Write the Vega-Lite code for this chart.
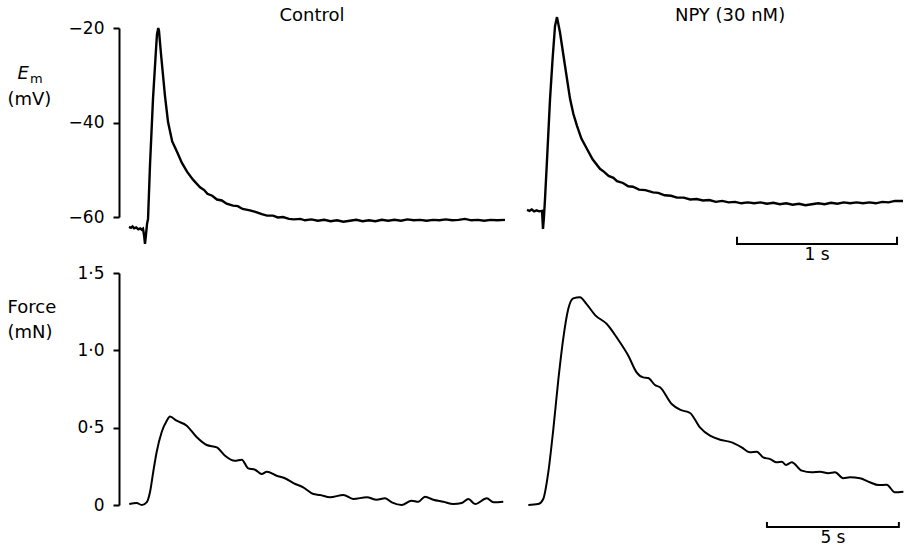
{
 "$schema": "https://vega.github.io/schema/vega-lite/v6.json",
 "background": "white",
 "padding": {"left": 7, "top": 7, "right": 0, "bottom": 0},
 "columns": 2,
 "align": "each",
 "bounds": "flush",
 "spacing": {"row": 56, "column": 12},
 "config": {
  "view": {"stroke": null},
  "font": "DejaVu Sans",
  "axis": {"domainColor": "black", "domainWidth": 2, "tickColor": "black", "tickWidth": 2, "tickSize": 6, "labelColor": "black", "labelFontSize": 17, "labelFont": "DejaVu Sans", "labelPadding": 9, "grid": false, "titleFont": "DejaVu Sans", "titleFontWeight": "normal", "titleFontSize": 18, "titleColor": "black", "titleLineHeight": 25, "labelOverlap": false},
  "text": {"color": "black", "font": "DejaVu Sans"}
 },
 "datasets": {
  "em": [
   {"condition":"Control","t":0,"mV":-62.1},{"condition":"Control","t":0.012,"mV":-62.3},{"condition":"Control","t":0.022,"mV":-62.0},{"condition":"Control","t":0.032,"mV":-62.4},{"condition":"Control","t":0.045,"mV":-62.2},{"condition":"Control","t":0.058,"mV":-62.6},{"condition":"Control","t":0.07,"mV":-62.4},{"condition":"Control","t":0.08,"mV":-62.7},{"condition":"Control","t":0.0875,"mV":-62.5},{"condition":"Control","t":0.094,"mV":-63.8},{"condition":"Control","t":0.1,"mV":-65.7},{"condition":"Control","t":0.106,"mV":-63.8},{"condition":"Control","t":0.1125,"mV":-61.5},{"condition":"Control","t":0.119,"mV":-60.4},{"condition":"Control","t":0.131,"mV":-49.2},{"condition":"Control","t":0.15,"mV":-35.0},{"condition":"Control","t":0.169,"mV":-24.4},{"condition":"Control","t":0.175,"mV":-21.3},{"condition":"Control","t":0.183,"mV":-20.0},{"condition":"Control","t":0.1875,"mV":-20.6},{"condition":"Control","t":0.2,"mV":-25.5},{"condition":"Control","t":0.225,"mV":-34.4},{"condition":"Control","t":0.244,"mV":-39.9},{"condition":"Control","t":0.27,"mV":-44.0},{"condition":"Control","t":0.3,"mV":-46.2},{"condition":"Control","t":0.33,"mV":-48.5},{"condition":"Control","t":0.3625,"mV":-50.4},{"condition":"Control","t":0.4,"mV":-52.1},{"condition":"Control","t":0.444,"mV":-53.7},{"condition":"Control","t":0.47,"mV":-54.3},{"condition":"Control","t":0.49,"mV":-55.1},{"condition":"Control","t":0.52,"mV":-55.5},{"condition":"Control","t":0.55,"mV":-56.3},{"condition":"Control","t":0.58,"mV":-56.5},{"condition":"Control","t":0.61,"mV":-57.2},{"condition":"Control","t":0.65,"mV":-57.6},{"condition":"Control","t":0.68,"mV":-57.7},{"condition":"Control","t":0.71,"mV":-58.3},{"condition":"Control","t":0.756,"mV":-58.6},{"condition":"Control","t":0.79,"mV":-58.9},{"condition":"Control","t":0.83,"mV":-59.4},{"condition":"Control","t":0.8625,"mV":-59.7},{"condition":"Control","t":0.9,"mV":-59.7},{"condition":"Control","t":0.93,"mV":-60.1},{"condition":"Control","t":0.9625,"mV":-60.0},{"condition":"Control","t":1.0,"mV":-60.4},{"condition":"Control","t":1.03,"mV":-60.5},{"condition":"Control","t":1.07,"mV":-60.4},{"condition":"Control","t":1.1,"mV":-60.7},{"condition":"Control","t":1.14,"mV":-60.5},{"condition":"Control","t":1.18,"mV":-60.8},{"condition":"Control","t":1.22,"mV":-60.6},{"condition":"Control","t":1.26,"mV":-60.9},{"condition":"Control","t":1.3,"mV":-60.7},{"condition":"Control","t":1.34,"mV":-61.0},{"condition":"Control","t":1.38,"mV":-60.8},{"condition":"Control","t":1.42,"mV":-60.6},{"condition":"Control","t":1.46,"mV":-60.9},{"condition":"Control","t":1.5,"mV":-60.7},{"condition":"Control","t":1.54,"mV":-60.9},{"condition":"Control","t":1.58,"mV":-60.6},{"condition":"Control","t":1.62,"mV":-60.8},{"condition":"Control","t":1.66,"mV":-60.6},{"condition":"Control","t":1.7,"mV":-60.8},{"condition":"Control","t":1.74,"mV":-60.5},{"condition":"Control","t":1.78,"mV":-60.7},{"condition":"Control","t":1.82,"mV":-60.6},{"condition":"Control","t":1.86,"mV":-60.8},{"condition":"Control","t":1.9,"mV":-60.6},{"condition":"Control","t":1.94,"mV":-60.7},{"condition":"Control","t":1.98,"mV":-60.5},{"condition":"Control","t":2.02,"mV":-60.7},{"condition":"Control","t":2.06,"mV":-60.6},{"condition":"Control","t":2.1,"mV":-60.4},{"condition":"Control","t":2.14,"mV":-60.7},{"condition":"Control","t":2.18,"mV":-60.6},{"condition":"Control","t":2.22,"mV":-60.8},{"condition":"Control","t":2.26,"mV":-60.6},{"condition":"Control","t":2.3,"mV":-60.7},{"condition":"Control","t":2.35,"mV":-60.6},
   {"condition":"NPY","t":0,"mV":-58.5},{"condition":"NPY","t":0.015,"mV":-58.7},{"condition":"NPY","t":0.03,"mV":-58.4},{"condition":"NPY","t":0.045,"mV":-58.8},{"condition":"NPY","t":0.06,"mV":-58.6},{"condition":"NPY","t":0.075,"mV":-58.8},{"condition":"NPY","t":0.094,"mV":-58.7},{"condition":"NPY","t":0.1,"mV":-62.5},{"condition":"NPY","t":0.106,"mV":-60.0},{"condition":"NPY","t":0.1125,"mV":-56.2},{"condition":"NPY","t":0.125,"mV":-48.0},{"condition":"NPY","t":0.144,"mV":-35.0},{"condition":"NPY","t":0.16,"mV":-26.5},{"condition":"NPY","t":0.175,"mV":-19.6},{"condition":"NPY","t":0.1875,"mV":-17.7},{"condition":"NPY","t":0.206,"mV":-20.9},{"condition":"NPY","t":0.2375,"mV":-28.0},{"condition":"NPY","t":0.269,"mV":-35.0},{"condition":"NPY","t":0.29,"mV":-38.2},{"condition":"NPY","t":0.3125,"mV":-40.7},{"condition":"NPY","t":0.34,"mV":-43.4},{"condition":"NPY","t":0.375,"mV":-45.6},{"condition":"NPY","t":0.41,"mV":-47.8},{"condition":"NPY","t":0.456,"mV":-49.8},{"condition":"NPY","t":0.48,"mV":-50.4},{"condition":"NPY","t":0.51,"mV":-51.3},{"condition":"NPY","t":0.54,"mV":-51.7},{"condition":"NPY","t":0.5625,"mV":-52.4},{"condition":"NPY","t":0.6,"mV":-52.8},{"condition":"NPY","t":0.6325,"mV":-53.5},{"condition":"NPY","t":0.6625,"mV":-53.6},{"condition":"NPY","t":0.7,"mV":-54.2},{"condition":"NPY","t":0.74,"mV":-54.3},{"condition":"NPY","t":0.7875,"mV":-54.8},{"condition":"NPY","t":0.82,"mV":-54.9},{"condition":"NPY","t":0.86,"mV":-55.4},{"condition":"NPY","t":0.9,"mV":-55.5},{"condition":"NPY","t":0.9375,"mV":-55.9},{"condition":"NPY","t":0.98,"mV":-55.9},{"condition":"NPY","t":1.02,"mV":-56.3},{"condition":"NPY","t":1.06,"mV":-56.2},{"condition":"NPY","t":1.1,"mV":-56.5},{"condition":"NPY","t":1.14,"mV":-56.4},{"condition":"NPY","t":1.18,"mV":-56.8},{"condition":"NPY","t":1.22,"mV":-56.6},{"condition":"NPY","t":1.26,"mV":-56.9},{"condition":"NPY","t":1.3,"mV":-56.8},{"condition":"NPY","t":1.34,"mV":-57.1},{"condition":"NPY","t":1.38,"mV":-56.9},{"condition":"NPY","t":1.42,"mV":-57.1},{"condition":"NPY","t":1.46,"mV":-56.9},{"condition":"NPY","t":1.5,"mV":-57.2},{"condition":"NPY","t":1.54,"mV":-57.0},{"condition":"NPY","t":1.58,"mV":-57.3},{"condition":"NPY","t":1.62,"mV":-57.1},{"condition":"NPY","t":1.66,"mV":-57.4},{"condition":"NPY","t":1.7,"mV":-57.2},{"condition":"NPY","t":1.74,"mV":-57.5},{"condition":"NPY","t":1.78,"mV":-57.3},{"condition":"NPY","t":1.82,"mV":-57.1},{"condition":"NPY","t":1.86,"mV":-57.3},{"condition":"NPY","t":1.9,"mV":-57.0},{"condition":"NPY","t":1.94,"mV":-57.2},{"condition":"NPY","t":1.98,"mV":-56.9},{"condition":"NPY","t":2.02,"mV":-57.1},{"condition":"NPY","t":2.06,"mV":-56.9},{"condition":"NPY","t":2.1,"mV":-57.1},{"condition":"NPY","t":2.14,"mV":-56.9},{"condition":"NPY","t":2.18,"mV":-57.1},{"condition":"NPY","t":2.22,"mV":-56.8},{"condition":"NPY","t":2.26,"mV":-56.9},{"condition":"NPY","t":2.3,"mV":-56.6},{"condition":"NPY","t":2.35,"mV":-56.6}
  ],
  "force": [
   {"condition":"Control","t":0.01,"mN":0.006},{"condition":"Control","t":0.29,"mN":0.013},{"condition":"Control","t":0.48,"mN":0.0},{"condition":"Control","t":0.67,"mN":0.019},{"condition":"Control","t":0.79,"mN":0.084},{"condition":"Control","t":0.91,"mN":0.213},{"condition":"Control","t":1.04,"mN":0.343},{"condition":"Control","t":1.23,"mN":0.472},{"condition":"Control","t":1.42,"mN":0.545},{"condition":"Control","t":1.54,"mN":0.572},{"condition":"Control","t":1.79,"mN":0.545},{"condition":"Control","t":2.17,"mN":0.513},{"condition":"Control","t":2.55,"mN":0.438},{"condition":"Control","t":2.92,"mN":0.388},{"condition":"Control","t":3.3,"mN":0.373},{"condition":"Control","t":3.61,"mN":0.319},{"condition":"Control","t":3.98,"mN":0.286},{"condition":"Control","t":4.24,"mN":0.293},{"condition":"Control","t":4.48,"mN":0.237},{"condition":"Control","t":4.74,"mN":0.228},{"condition":"Control","t":4.99,"mN":0.2},{"condition":"Control","t":5.18,"mN":0.215},{"condition":"Control","t":5.55,"mN":0.189},{"condition":"Control","t":5.86,"mN":0.173},{"condition":"Control","t":6.18,"mN":0.142},{"condition":"Control","t":6.55,"mN":0.114},{"condition":"Control","t":6.93,"mN":0.071},{"condition":"Control","t":7.18,"mN":0.065},{"condition":"Control","t":7.56,"mN":0.05},{"condition":"Control","t":8.06,"mN":0.065},{"condition":"Control","t":8.43,"mN":0.039},{"condition":"Control","t":8.94,"mN":0.05},{"condition":"Control","t":9.31,"mN":0.034},{"condition":"Control","t":9.62,"mN":0.043},{"condition":"Control","t":9.88,"mN":0.017},{"condition":"Control","t":10.25,"mN":0.0},{"condition":"Control","t":10.62,"mN":0.028},{"condition":"Control","t":10.88,"mN":0.021},{"condition":"Control","t":11.13,"mN":0.054},{"condition":"Control","t":11.44,"mN":0.034},{"condition":"Control","t":11.82,"mN":0.021},{"condition":"Control","t":12.19,"mN":0.006},{"condition":"Control","t":12.51,"mN":0.013},{"condition":"Control","t":12.76,"mN":0.039},{"condition":"Control","t":13.01,"mN":0.006},{"condition":"Control","t":13.45,"mN":0.043},{"condition":"Control","t":13.7,"mN":0.017},{"condition":"Control","t":14.07,"mN":0.021},
   {"condition":"NPY","t":0.05,"mN":0.0},{"condition":"NPY","t":0.42,"mN":0.006},{"condition":"NPY","t":0.61,"mN":0.039},{"condition":"NPY","t":0.8,"mN":0.211},{"condition":"NPY","t":0.99,"mN":0.491},{"condition":"NPY","t":1.18,"mN":0.814},{"condition":"NPY","t":1.36,"mN":1.073},{"condition":"NPY","t":1.55,"mN":1.267},{"condition":"NPY","t":1.74,"mN":1.336},{"condition":"NPY","t":1.99,"mN":1.343},{"condition":"NPY","t":2.24,"mN":1.299},{"condition":"NPY","t":2.56,"mN":1.228},{"condition":"NPY","t":3.0,"mN":1.17},{"condition":"NPY","t":3.37,"mN":1.084},{"condition":"NPY","t":3.81,"mN":0.965},{"condition":"NPY","t":4.12,"mN":0.858},{"condition":"NPY","t":4.37,"mN":0.825},{"condition":"NPY","t":4.56,"mN":0.821},{"condition":"NPY","t":4.81,"mN":0.776},{"condition":"NPY","t":5.0,"mN":0.761},{"condition":"NPY","t":5.44,"mN":0.653},{"condition":"NPY","t":5.75,"mN":0.616},{"condition":"NPY","t":6.13,"mN":0.595},{"condition":"NPY","t":6.5,"mN":0.502},{"condition":"NPY","t":6.88,"mN":0.448},{"condition":"NPY","t":7.26,"mN":0.422},{"condition":"NPY","t":7.7,"mN":0.405},{"condition":"NPY","t":8.07,"mN":0.373},{"condition":"NPY","t":8.38,"mN":0.341},{"condition":"NPY","t":8.64,"mN":0.345},{"condition":"NPY","t":8.88,"mN":0.308},{"condition":"NPY","t":9.14,"mN":0.297},{"condition":"NPY","t":9.39,"mN":0.276},{"condition":"NPY","t":9.58,"mN":0.28},{"condition":"NPY","t":9.74,"mN":0.259},{"condition":"NPY","t":9.95,"mN":0.276},{"condition":"NPY","t":10.33,"mN":0.222},{"condition":"NPY","t":10.7,"mN":0.211},{"condition":"NPY","t":11.02,"mN":0.215},{"condition":"NPY","t":11.33,"mN":0.205},{"condition":"NPY","t":11.58,"mN":0.211},{"condition":"NPY","t":11.89,"mN":0.173},{"condition":"NPY","t":12.14,"mN":0.179},{"condition":"NPY","t":12.52,"mN":0.173},{"condition":"NPY","t":12.89,"mN":0.147},{"condition":"NPY","t":13.21,"mN":0.129},{"condition":"NPY","t":13.52,"mN":0.131},{"condition":"NPY","t":13.83,"mN":0.082},{"condition":"NPY","t":14.15,"mN":0.086}
  ]
 },
 "concat": [
  {
   "width": 386, "height": 189,
   "layer": [
    {
     "data": {"name": "em"},
     "transform": [{"filter": "datum.condition === 'Control'"}],
     "mark": {"type": "line", "color": "black", "strokeWidth": 2.4},
     "encoding": {
      "x": {"field": "t", "type": "quantitative", "scale": {"domain": [-0.0625, 2.35], "nice": false, "zero": false}, "axis": null},
      "y": {"field": "mV", "type": "quantitative", "scale": {"domain": [-60, -20], "nice": false, "zero": false}, "axis": {"values": [-60, -40, -20], "title": "(mV)", "titleAngle": 0, "titleAlign": "left", "titleBaseline": "top", "titleX": -112, "titleY": 62}}
     }
    },
    {
     "data": {"values": [{}]},
     "mark": {"type": "text", "text": "Control", "fontSize": 18, "align": "center", "baseline": "alphabetic"},
     "encoding": {"x": {"datum": 1.14375, "type": "quantitative"}, "y": {"datum": -18.52, "type": "quantitative"}}
    },
    {
     "data": {"values": [{}]},
     "mark": {"type": "text", "text": "E", "fontStyle": "italic", "fontSize": 18, "align": "left", "baseline": "alphabetic"},
     "encoding": {"x": {"datum": -0.6975, "type": "quantitative"}, "y": {"datum": -30.7, "type": "quantitative"}}
    },
    {
     "data": {"values": [{}]},
     "mark": {"type": "text", "text": "m", "fontSize": 13, "align": "left", "baseline": "alphabetic"},
     "encoding": {"x": {"datum": -0.6188, "type": "quantitative"}, "y": {"datum": -31.7, "type": "quantitative"}}
    }
   ]
  },
  {
   "width": 386, "height": 189,
   "layer": [
    {
     "data": {"name": "em"},
     "transform": [{"filter": "datum.condition === 'NPY'"}],
     "mark": {"type": "line", "color": "black", "strokeWidth": 2.4},
     "encoding": {
      "x": {"field": "t", "type": "quantitative", "scale": {"domain": [-0.0625, 2.35], "nice": false, "zero": false}, "axis": null},
      "y": {"field": "mV", "type": "quantitative", "scale": {"domain": [-60, -20], "nice": false, "zero": false}, "axis": null}
     }
    },
    {
     "data": {"values": [{}]},
     "mark": {"type": "text", "text": "NPY (30 nM)", "fontSize": 18, "align": "center", "baseline": "alphabetic"},
     "encoding": {"x": {"datum": 1.269, "type": "quantitative"}, "y": {"datum": -18.52, "type": "quantitative"}}
    },
    {
     "data": {"values": [{}]},
     "mark": {"type": "rule", "color": "black", "strokeWidth": 2},
     "encoding": {"x": {"datum": 1.3125, "type": "quantitative"}, "x2": {"datum": 2.3125}, "y": {"datum": -65.7, "type": "quantitative"}}
    },
    {
     "data": {"values": [{}]},
     "mark": {"type": "rule", "color": "black", "strokeWidth": 2},
     "encoding": {"x": {"datum": 1.3125, "type": "quantitative"}, "y": {"datum": -65.9, "type": "quantitative"}, "y2": {"datum": -64.2}}
    },
    {
     "data": {"values": [{}]},
     "mark": {"type": "rule", "color": "black", "strokeWidth": 2},
     "encoding": {"x": {"datum": 2.3125, "type": "quantitative"}, "y": {"datum": -65.9, "type": "quantitative"}, "y2": {"datum": -64.2}}
    },
    {
     "data": {"values": [{}]},
     "mark": {"type": "text", "text": "1 s", "fontSize": 17, "align": "center", "baseline": "top", "dy": 3},
     "encoding": {"x": {"datum": 1.8125, "type": "quantitative"}, "y": {"datum": -65.7, "type": "quantitative"}}
    }
   ]
  },
  {
   "width": 386, "height": 232,
   "layer": [
    {
     "data": {"name": "force"},
     "transform": [{"filter": "datum.condition === 'Control'"}],
     "mark": {"type": "line", "color": "black", "strokeWidth": 2, "interpolate": "monotone"},
     "encoding": {
      "x": {"field": "t", "type": "quantitative", "scale": {"domain": [-0.376, 14.135], "nice": false, "zero": false}, "axis": null},
      "y": {"field": "mN", "type": "quantitative", "scale": {"domain": [0, 1.5], "nice": false}, "axis": {"values": [0, 0.5, 1, 1.5], "labelExpr": "datum.value === 0 ? '0' : replace(format(datum.value, '.1f'), '.', '·')", "title": ["Force", "(mN)"], "titleAngle": 0, "titleAlign": "left", "titleBaseline": "top", "titleX": -112, "titleY": 25}}
     }
    }
   ]
  },
  {
   "width": 386, "height": 232,
   "layer": [
    {
     "data": {"name": "force"},
     "transform": [{"filter": "datum.condition === 'NPY'"}],
     "mark": {"type": "line", "color": "black", "strokeWidth": 2, "interpolate": "monotone"},
     "encoding": {
      "x": {"field": "t", "type": "quantitative", "scale": {"domain": [-0.376, 14.135], "nice": false, "zero": false}, "axis": null},
      "y": {"field": "mN", "type": "quantitative", "scale": {"domain": [0, 1.5], "nice": false}, "axis": null}
     }
    },
    {
     "data": {"values": [{}]},
     "mark": {"type": "rule", "color": "black", "strokeWidth": 2},
     "encoding": {"x": {"datum": 9.02, "type": "quantitative"}, "x2": {"datum": 13.98}, "y": {"datum": -0.142, "type": "quantitative"}}
    },
    {
     "data": {"values": [{}]},
     "mark": {"type": "rule", "color": "black", "strokeWidth": 2},
     "encoding": {"x": {"datum": 9.02, "type": "quantitative"}, "y": {"datum": -0.148, "type": "quantitative"}, "y2": {"datum": -0.11}}
    },
    {
     "data": {"values": [{}]},
     "mark": {"type": "rule", "color": "black", "strokeWidth": 2},
     "encoding": {"x": {"datum": 13.98, "type": "quantitative"}, "y": {"datum": -0.148, "type": "quantitative"}, "y2": {"datum": -0.11}}
    },
    {
     "data": {"values": [{}]},
     "mark": {"type": "text", "text": "5 s", "fontSize": 17, "align": "center", "baseline": "top", "dy": 3},
     "encoding": {"x": {"datum": 11.5, "type": "quantitative"}, "y": {"datum": -0.142, "type": "quantitative"}}
    }
   ]
  }
 ]
}
